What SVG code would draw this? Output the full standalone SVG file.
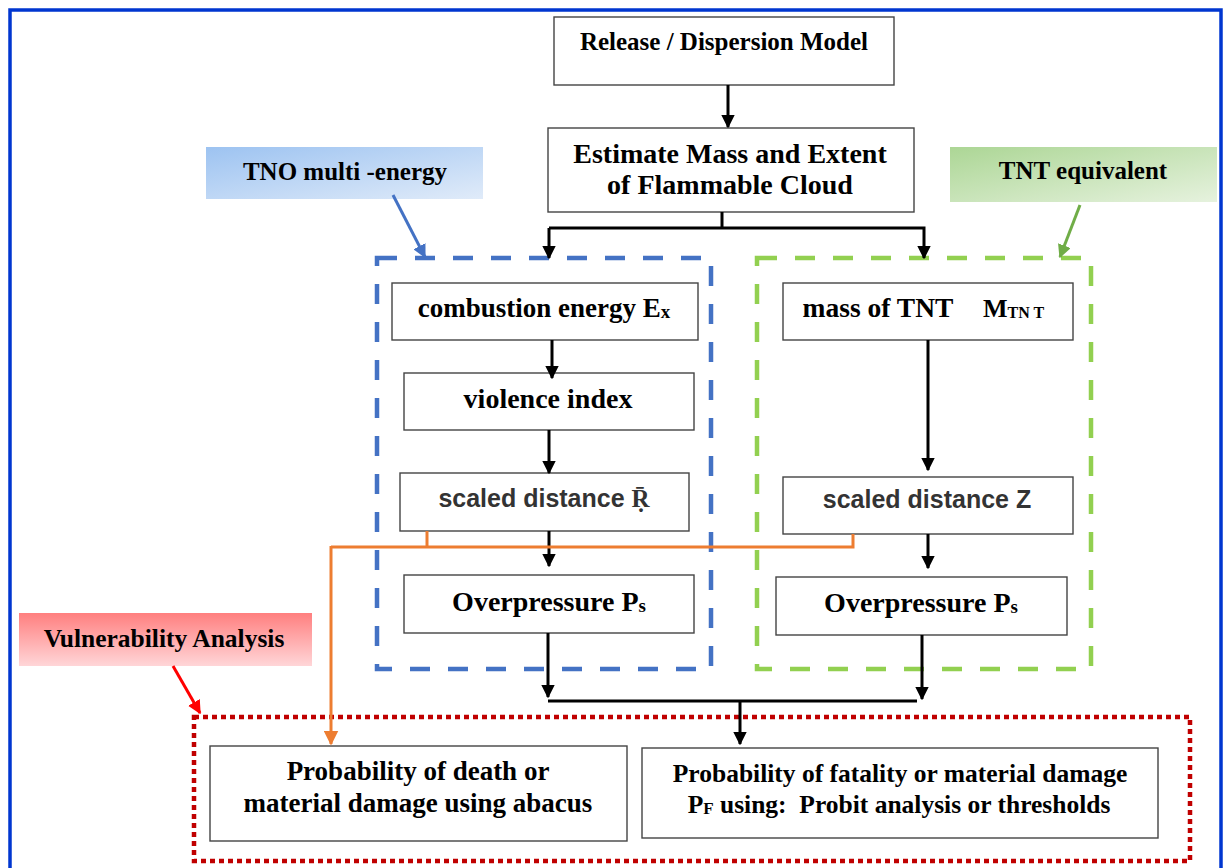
<svg xmlns="http://www.w3.org/2000/svg" width="1224" height="868" viewBox="0 0 1224 868">
<defs>
<linearGradient id="gBlue" x1="0" y1="0" x2="1" y2="1"><stop offset="0" stop-color="#9dc3f1"/><stop offset="1" stop-color="#e0ebf9"/></linearGradient>
<linearGradient id="gGreen" x1="0" y1="0" x2="1" y2="1"><stop offset="0" stop-color="#acd695"/><stop offset="1" stop-color="#e6f2de"/></linearGradient>
<linearGradient id="gRed" x1="0" y1="0" x2="0" y2="1"><stop offset="0" stop-color="#ff7f7f"/><stop offset="1" stop-color="#ffd6d8"/></linearGradient>
<marker id="aK" viewBox="0 0 10 10" refX="9" refY="5" markerWidth="4.5" markerHeight="4.5" orient="auto"><path d="M0,0 L10,5 L0,10 z" fill="#000"/></marker>
<marker id="aO" viewBox="0 0 10 10" refX="9" refY="5" markerWidth="5" markerHeight="5" orient="auto"><path d="M0,0 L10,5 L0,10 z" fill="#ed7d31"/></marker>
<marker id="aB" viewBox="0 0 10 10" refX="9" refY="5" markerWidth="4.5" markerHeight="4.5" orient="auto"><path d="M0,0 L10,5 L0,10 z" fill="#4472c4"/></marker>
<marker id="aG" viewBox="0 0 10 10" refX="9" refY="5" markerWidth="4.5" markerHeight="4.5" orient="auto"><path d="M0,0 L10,5 L0,10 z" fill="#70ad47"/></marker>
<marker id="aR" viewBox="0 0 10 10" refX="9" refY="5" markerWidth="4.5" markerHeight="4.5" orient="auto"><path d="M0,0 L10,5 L0,10 z" fill="#ff0000"/></marker>
</defs>
<style>
.box{fill:#fff;stroke:#444;stroke-width:1.4}
.t{font-family:"Liberation Serif","Times New Roman",serif;font-weight:bold;fill:#000;text-anchor:middle}
.s{font-family:"Liberation Sans",Arial,sans-serif;font-weight:bold;fill:#333;text-anchor:middle}
.k{fill:none;stroke:#000;stroke-width:3}
.ka{fill:none;stroke:#000;stroke-width:3;marker-end:url(#aK)}
</style>
<rect x="10" y="10" width="1211" height="880" fill="#fff" stroke="#0036d0" stroke-width="3.5"/>

<g id="group-tno">
<rect x="377" y="258" width="334" height="411" fill="none" stroke="#4472c4" stroke-width="4.5" stroke-dasharray="20 18"/>
</g>
<g id="group-tnt">
<rect x="757" y="258" width="334" height="411" fill="none" stroke="#92d050" stroke-width="4.5" stroke-dasharray="20 18"/>
</g>
<g id="group-vuln">
<rect x="194" y="717" width="996" height="144" fill="none" stroke="#c00000" stroke-width="4.5" stroke-dasharray="5 4"/>
</g>

<g id="label-tno">
<rect x="206" y="147" width="277" height="52" fill="url(#gBlue)"/>
<text class="t" x="345" y="180" font-size="25">TNO multi -energy</text>
</g>
<g id="label-tnt">
<rect x="950" y="147" width="267" height="55" fill="url(#gGreen)"/>
<text class="t" x="1083" y="179" font-size="25">TNT equivalent</text>
</g>
<g id="label-vuln">
<rect x="19" y="613" width="293" height="53" fill="url(#gRed)"/>
<text class="t" x="164" y="647" font-size="25.5">Vulnerability Analysis</text>
</g>

<g id="release">
<rect class="box" x="554" y="17" width="340" height="68"/>
<text class="t" x="724" y="50" font-size="25">Release / Dispersion Model</text>
</g>
<g id="estimate">
<rect class="box" x="548" y="128" width="366" height="84"/>
<text class="t" x="730" y="163" font-size="28">Estimate Mass and Extent</text>
<text class="t" x="730" y="194" font-size="28">of Flammable Cloud</text>
</g>
<g id="combustion">
<rect class="box" x="392" y="283" width="306" height="57"/>
<text class="t" x="544" y="317" font-size="27">combustion energy E<tspan font-size="19" dy="1">x</tspan></text>
</g>
<g id="violence">
<rect class="box" x="404" y="373" width="290" height="57"/>
<text class="t" x="548" y="408" font-size="28">violence index</text>
</g>
<g id="scaledR">
<rect class="box" x="400" y="473" width="289" height="58"/>
<text class="s" x="544" y="507" font-size="25">scaled distance <tspan font-family="Liberation Serif, serif">R&#x304;&#x323;</tspan></text>
</g>
<g id="overL">
<rect class="box" x="404" y="575" width="290" height="58"/>
<text class="t" x="549" y="611" font-size="28">Overpressure P<tspan font-size="19" dy="1">s</tspan></text>
</g>
<g id="massTNT">
<rect class="box" x="783" y="283" width="290" height="57"/>
<text class="t" x="878" y="317" font-size="27.5">mass of TNT</text>
<text class="t" x="983" y="317" font-size="26" style="text-anchor:start">M<tspan font-size="16" dy="1">TN T</tspan></text>
</g>
<g id="scaledZ">
<rect class="box" x="783" y="477" width="290" height="57"/>
<text class="s" x="927" y="508" font-size="25">scaled distance Z</text>
</g>
<g id="overR">
<rect class="box" x="776" y="577" width="291" height="58"/>
<text class="t" x="921" y="612" font-size="28">Overpressure P<tspan font-size="19" dy="1">s</tspan></text>
</g>
<g id="probDeath">
<rect class="box" x="210" y="746" width="417" height="95"/>
<text class="t" x="418" y="780" font-size="27">Probability of death or</text>
<text class="t" x="418" y="812" font-size="27">material damage using abacus</text>
</g>
<g id="probFatal">
<rect class="box" x="642" y="748" width="516" height="90"/>
<text class="t" x="900" y="782" font-size="25.5">Probability of fatality or material damage</text>
<text class="t" x="899" y="813" font-size="25.5">P<tspan font-size="17" dy="1">F</tspan><tspan dy="-1"> using:&#160; Probit analysis or thresholds</tspan></text>
</g>

<g id="connectors">
<path class="ka" d="M728 85 V127"/>
<path class="k" d="M722 212 V228"/>
<path class="ka" d="M549 228 H924 V258"/>
<path class="ka" d="M549 228 V258"/>
<path class="ka" d="M552 340 V378"/>
<path class="ka" d="M549 430 V473"/>
<path class="ka" d="M549 531 V566"/>
<path class="ka" d="M928 340 V470"/>
<path class="ka" d="M928 534 V568"/>
<path class="ka" d="M548 633 V697"/>
<path class="ka" d="M922 635 V699"/>
<path class="k" d="M548 701 H917"/>
<path class="ka" d="M740 701 V744"/>
<path fill="none" stroke="#ed7d31" stroke-width="3" d="M427 531 V547"/>
<path fill="none" stroke="#ed7d31" stroke-width="3" d="M853 534 V547 H331"/>
<path fill="none" stroke="#ed7d31" stroke-width="3" marker-end="url(#aO)" d="M331 546 V744"/>
<path fill="none" stroke="#4472c4" stroke-width="3" marker-end="url(#aB)" d="M393 195 L425 257"/>
<path fill="none" stroke="#70ad47" stroke-width="3" marker-end="url(#aG)" d="M1080 205 L1060 257"/>
<path fill="none" stroke="#ff0000" stroke-width="3" marker-end="url(#aR)" d="M173 666 L200 713"/>
</g>
</svg>
